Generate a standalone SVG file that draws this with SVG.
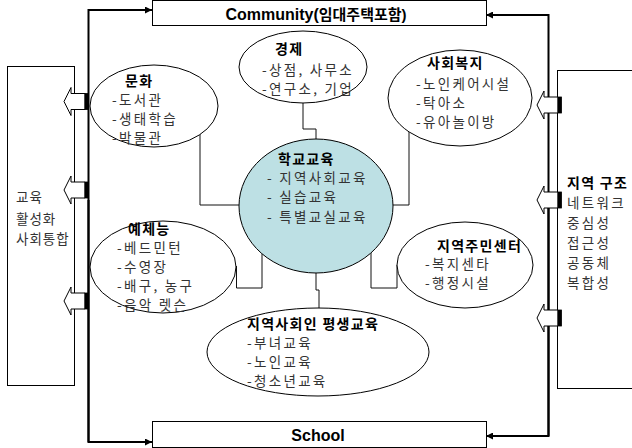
<svg xmlns="http://www.w3.org/2000/svg" width="632" height="448" viewBox="0 0 632 448">
<style>
.box{fill:#fff;stroke:#000;stroke-width:1}
.ell{fill:#fff;stroke:#000;stroke-width:1}
.hub{fill:#bde0e4;stroke:#000;stroke-width:1}
.thin{fill:none;stroke:#111;stroke-width:1}
.main{fill:none;stroke:#000;stroke-width:2}
.t{font-family:"Noto Sans CJK KR","Liberation Sans",sans-serif;font-size:13.5px;fill:#333;letter-spacing:2.3px}
.h{font-family:"Noto Sans CJK KR","Liberation Sans",sans-serif;font-size:14px;font-weight:bold;fill:#000;letter-spacing:1.3px}
.lat{font-family:"Liberation Sans","Noto Sans CJK KR",sans-serif;font-size:16px;font-weight:bold;fill:#000}
</style>
<defs>
<marker id="ah" markerUnits="userSpaceOnUse" markerWidth="8" markerHeight="7" refX="7" refY="3.5" orient="auto">
<path d="M0,0 L7,3.5 L0,7 Z" fill="#000"/>
</marker>
<g id="barrow">
<path d="M0,0 L7,-14 L7,-8 L21,-8 L21,8 L7,8 L7,14 Z" fill="#fff" stroke="#000" stroke-width="1"/>
<rect x="21" y="-8" width="3.5" height="16" fill="#000" stroke="#000" stroke-width="0.8"/>
</g>
</defs>
<rect width="632" height="448" fill="#fff"/>

<g id="connectors">
<path class="thin" d="M200,120 V205 H250"/>
<path class="thin" d="M409,120 V205 H380"/>
<path class="thin" d="M303,90 V129 H316 V150"/>
<path class="thin" d="M262,250 V288 H236.5 V266"/>
<path class="thin" d="M371,250 V288 H397 V265"/>
<path class="thin" d="M316,260 V290 H319 V320"/>
<path class="main" d="M88.5,442 V10 H152" marker-end="url(#ah)"/>
<path class="main" d="M88.5,200 V442 H152" marker-end="url(#ah)"/>
<path class="main" d="M548.5,436 V15 H486" marker-end="url(#ah)"/>
<path class="main" d="M548.5,200 V436 H486" marker-end="url(#ah)"/>
</g>

<g id="community">
<rect class="box" x="152.5" y="0.5" width="334" height="25"/>
<text class="lat" x="316" y="20" text-anchor="middle">Community(<tspan font-size="15">임대주택포함)</tspan></text>
</g>

<g id="school">
<rect class="box" x="152.5" y="421.5" width="334" height="26"/>
<text class="lat" x="318" y="441" text-anchor="middle">School</text>
</g>

<g id="left-box">
<rect class="box" x="7.5" y="66.5" width="67" height="319"/>
<text class="t" style="letter-spacing:1px" x="16" y="202">교육</text>
<text class="t" style="letter-spacing:1px" x="16" y="224">활성화</text>
<text class="t" style="letter-spacing:1px" x="16" y="244">사회통합</text>
</g>

<g id="right-box">
<rect class="box" x="557.5" y="70.5" width="100" height="318"/>
<text class="h" x="567" y="187.5">지역 구조</text>
<text class="t" x="567" y="207.5">네트워크</text>
<text class="t" x="567" y="227.5">중심성</text>
<text class="t" x="567" y="247.5">접근성</text>
<text class="t" x="567" y="267.5">공동체</text>
<text class="t" x="567" y="287.5">복합성</text>
</g>

<g id="arrows-left">
<use href="#barrow" x="64" y="101.5"/>
<use href="#barrow" x="64" y="190"/>
<use href="#barrow" x="64" y="301"/>
</g>
<g id="arrows-right">
<use href="#barrow" x="537" y="105"/>
<use href="#barrow" x="537" y="200"/>
<use href="#barrow" x="537" y="318"/>
</g>

<g id="munhwa">
<ellipse class="ell" cx="154" cy="106" rx="64" ry="41"/>
<text class="h" x="125" y="86">문화</text>
<text class="t" x="112" y="105">-도서관</text>
<text class="t" x="112" y="124">-생태학습</text>
<text class="t" x="112" y="142.5">-박물관</text>
</g>

<g id="gyeongje">
<ellipse class="ell" cx="303" cy="67" rx="64" ry="36"/>
<text class="h" x="275" y="54">경제</text>
<text class="t" x="262" y="74.5">-상점, 사무소</text>
<text class="t" x="262" y="93.5">-연구소, 기업</text>
</g>

<g id="bokji">
<ellipse class="ell" cx="460" cy="98" rx="72" ry="48"/>
<text class="h" x="427" y="68">사회복지</text>
<text class="t" x="416" y="89">-노인케어시설</text>
<text class="t" x="416" y="107.5">-탁아소</text>
<text class="t" x="416" y="127">-유아놀이방</text>
</g>

<g id="school-edu">
<ellipse class="hub" cx="316" cy="206" rx="77" ry="67"/>
<text class="h" x="278" y="163.5">학교교육</text>
<text class="t" x="267" y="183">- 지역사회교육</text>
<text class="t" x="267" y="202">- 실습교육</text>
<text class="t" x="267" y="221.5">- 특별교실교육</text>
</g>

<g id="yechene">
<ellipse class="ell" cx="163" cy="267" rx="73" ry="46"/>
<text class="h" x="128" y="234">예체능</text>
<text class="t" x="117" y="252.5">-베드민턴</text>
<text class="t" x="117" y="271.5">-수영장</text>
<text class="t" x="117" y="290.5">-배구, 농구</text>
<text class="t" x="117" y="309.5">-음악 렛슨</text>
</g>

<g id="jumin">
<ellipse class="ell" cx="465" cy="265" rx="68" ry="43"/>
<text class="h" x="437" y="250.5">지역주민센터</text>
<text class="t" x="425" y="269">-복지센타</text>
<text class="t" x="425" y="288">-행정시설</text>
</g>

<g id="pyeongsaeng">
<ellipse class="ell" cx="318" cy="352" rx="111" ry="44"/>
<text class="h" x="247" y="328.5">지역사회인 평생교육</text>
<text class="t" x="247" y="347.5">-부녀교육</text>
<text class="t" x="247" y="366.5">-노인교육</text>
<text class="t" x="247" y="385.5">-청소년교육</text>
</g>
</svg>
